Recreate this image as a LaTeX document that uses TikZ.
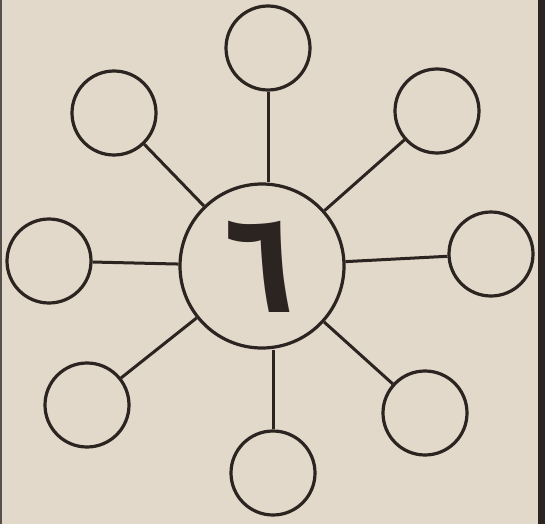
\documentclass[tikz,border=0pt]{standalone}
\usepackage{fontspec}
\newfontfamily\arabicfont[Script=Arabic]{DejaVu Sans}
\TeXXeTstate=1
\definecolor{paper}{HTML}{E2D9CB}
\definecolor{ink}{HTML}{2B2420}
\begin{document}
\begin{tikzpicture}[x=1pt,y=-1pt,
  sat/.style={circle,draw=ink,line width=3.2pt,minimum size=84pt,inner sep=0pt},
  hub/.style={circle,draw=ink,line width=3.2pt,minimum size=164pt,inner sep=0pt},
  spoke/.style={draw=ink,line width=3pt}]
\fill[paper] (0,0) rectangle (545,524);
\useasboundingbox (0,0) rectangle (545,524);
\fill[ink] (538,0) rectangle (545,524);
\fill[ink!80] (0,0) rectangle (2,524);
\node[hub] (c) at (262,266) {};
\node[text=ink,font=\arabicfont\bfseries\fontsize{120}{120}\selectfont,xscale=0.95,yscale=1.2] (d) at (259,267) {\beginR ٦\endR};
\node[sat] (n) at (268,48) {};
\node[sat] (ne) at (437,111) {};
\node[sat] (e) at (491,254) {};
\node[sat] (se) at (425,413) {};
\node[sat] (s) at (273,473) {};
\node[sat] (sw) at (87,405) {};
\node[sat] (w) at (49,261) {};
\node[sat] (nw) at (114,113) {};
\draw[spoke] (n) -- (n |- c.north);
\draw[spoke] (s) -- (s |- c.south);
\foreach \o in {ne,e,se,sw,w,nw}{\draw[spoke] (\o) -- (c);}
\end{tikzpicture}
\end{document}
